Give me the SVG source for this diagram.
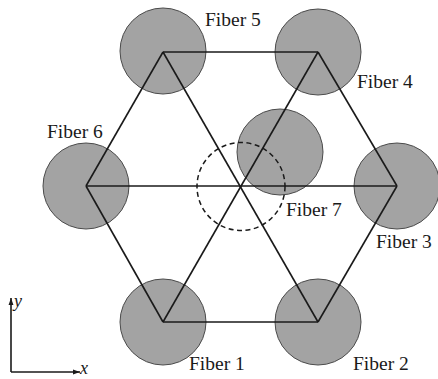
<svg xmlns="http://www.w3.org/2000/svg" width="438" height="379" viewBox="0 0 438 379">
<style>
.fiber{fill:#a3a3a3;stroke:#4a4a4a;stroke-width:1}
.ln{stroke:#1a1a1a;stroke-width:1.6;fill:none}
.lbl{font-family:"Liberation Serif","Times New Roman",serif;font-size:19.5px;fill:#1a1a1a}
.ax{font-family:"Liberation Serif","Times New Roman",serif;font-size:18px;font-style:italic;fill:#1a1a1a}
</style>
<defs>
<marker id="ah" viewBox="0 0 10 10" refX="10" refY="5" markerWidth="7" markerHeight="7" markerUnits="userSpaceOnUse" orient="auto">
<path d="M0,1.5 L10,5 L0,8.5 z" fill="#1a1a1a"/>
</marker>
</defs>
<rect width="438" height="379" fill="#fff"/>
<g id="fiber5"><circle class="fiber" cx="163" cy="51" r="43"/><text class="lbl" x="205" y="26">Fiber 5</text></g>
<g id="fiber4"><circle class="fiber" cx="318" cy="52" r="43"/><text class="lbl" x="357" y="88">Fiber 4</text></g>
<g id="fiber6"><circle class="fiber" cx="86" cy="186" r="43"/><text class="lbl" x="47" y="138">Fiber 6</text></g>
<g id="fiber3"><circle class="fiber" cx="397" cy="186" r="43"/><text class="lbl" x="376" y="248">Fiber 3</text></g>
<g id="fiber1"><circle class="fiber" cx="163" cy="322" r="43"/><text class="lbl" x="189" y="370">Fiber 1</text></g>
<g id="fiber2"><circle class="fiber" cx="318" cy="322" r="43"/><text class="lbl" x="353" y="370">Fiber 2</text></g>
<g id="fiber7"><circle class="fiber" cx="280" cy="152" r="43"/><text class="lbl" x="286" y="216">Fiber 7</text></g>
<g id="connectors">
<line class="ln" x1="163" y1="52" x2="318" y2="52"/>
<line class="ln" x1="86" y1="186" x2="397" y2="186"/>
<line class="ln" x1="163" y1="322" x2="318" y2="322"/>
<line class="ln" x1="163" y1="52" x2="86" y2="186"/>
<line class="ln" x1="86" y1="186" x2="163" y2="322"/>
<line class="ln" x1="163" y1="52" x2="318" y2="322"/>
<line class="ln" x1="163" y1="322" x2="318" y2="52"/>
<line class="ln" x1="318" y1="52" x2="397" y2="186"/>
<line class="ln" x1="397" y1="186" x2="318" y2="322"/>
</g>
<g id="center-zone"><circle cx="241" cy="186.5" r="44" fill="none" stroke="#1a1a1a" stroke-width="1.5" stroke-dasharray="5,3.5"/></g>
<g id="axes">
<line class="ln" x1="11" y1="372" x2="11" y2="298" stroke-width="1.3" marker-end="url(#ah)"/>
<line class="ln" x1="11" y1="372" x2="80" y2="372" stroke-width="1.3" marker-end="url(#ah)"/>
<text class="ax" x="14" y="307">y</text>
<text class="ax" x="80" y="374">x</text>
</g>
</svg>
